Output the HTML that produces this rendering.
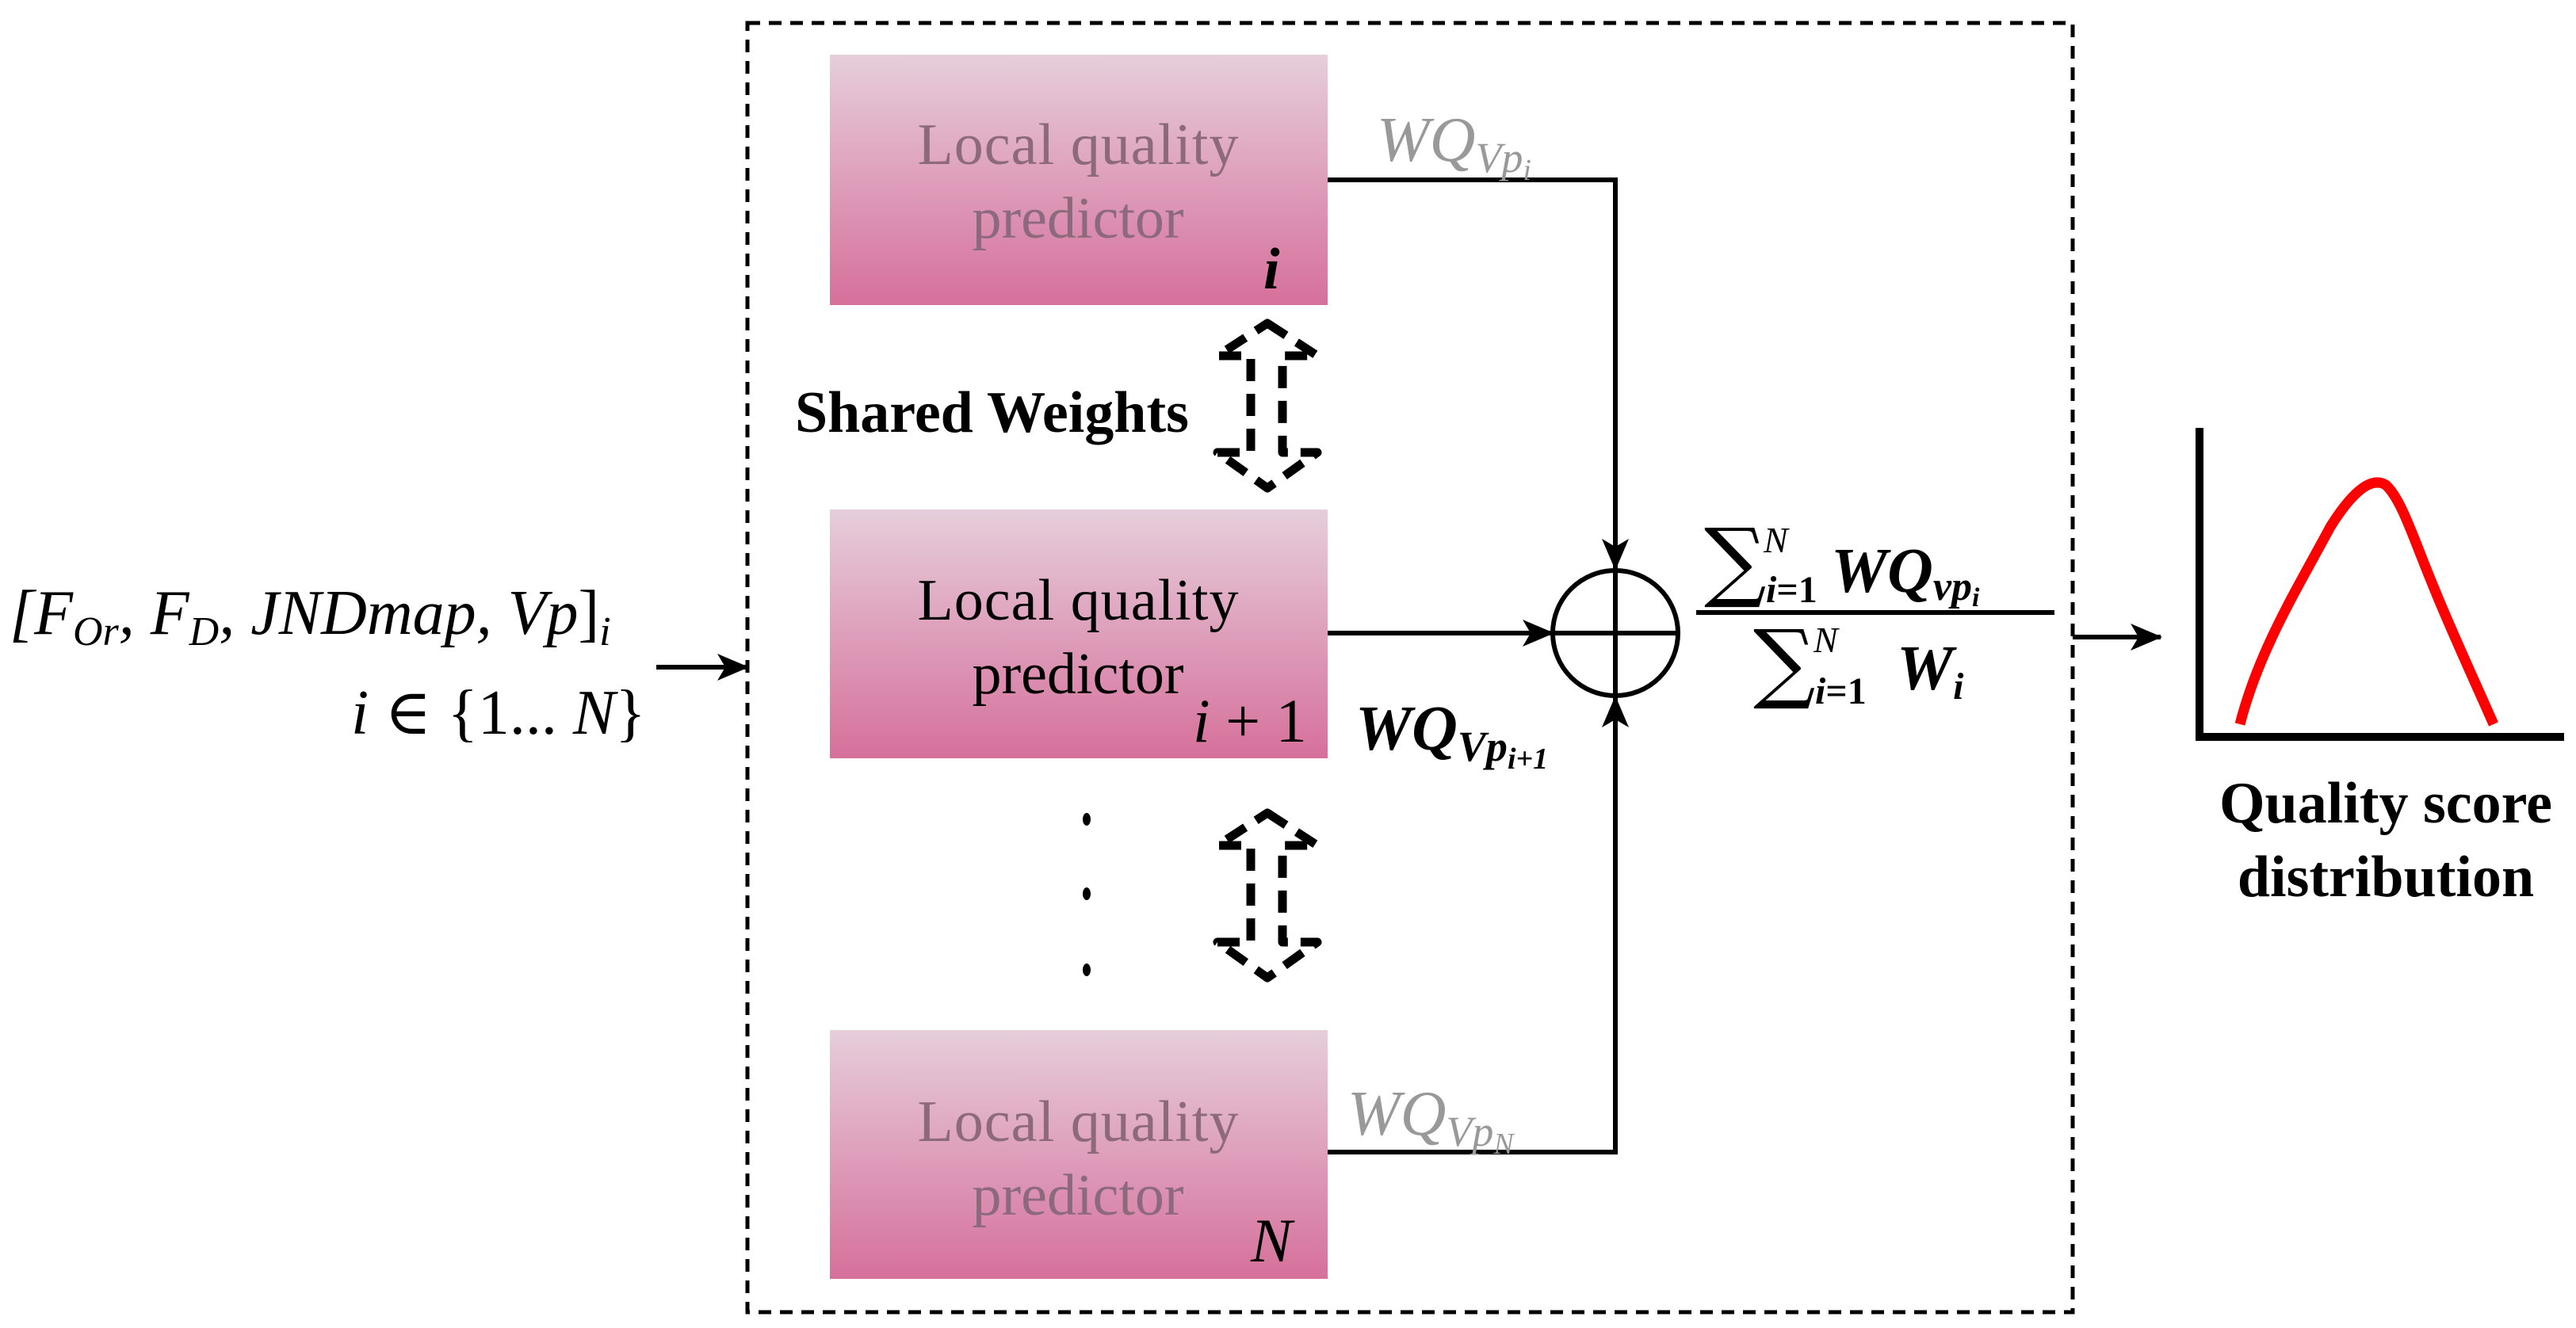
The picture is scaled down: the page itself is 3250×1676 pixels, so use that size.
<!DOCTYPE html>
<html><head><meta charset="utf-8"><style>
html,body{margin:0;padding:0;background:#fff}
svg{display:block}
</style></head><body>
<svg width="3250" height="1676" viewBox="0 0 3250 1676" xmlns="http://www.w3.org/2000/svg" font-family="'Liberation Serif', 'DejaVu Serif', serif">
<defs>
<linearGradient id="g" x1="0" y1="0" x2="0" y2="1">
<stop offset="0" stop-color="#e6cedb"/><stop offset="1" stop-color="#d6709b"/>
</linearGradient>
<marker id="ah" markerWidth="40" markerHeight="34" refX="38" refY="17" orient="auto" markerUnits="userSpaceOnUse" viewBox="0 0 40 34">
<path d="M0,0 L40,17 L0,34 L10,17 Z" fill="#000"/>
</marker>
</defs>
<rect x="943" y="29" width="1672" height="1627" fill="none" stroke="#000" stroke-width="5" stroke-dasharray="16,11"/>

<rect x="1047" y="69" width="628" height="316" fill="url(#g)"/>
<rect x="1047" y="643" width="628" height="314" fill="url(#g)"/>
<rect x="1047" y="1300" width="628" height="314" fill="url(#g)"/>

<g font-size="74" text-anchor="middle">
<text x="1360" y="207" fill="#8c6a7c" textLength="405">Local quality</text>
<text x="1360" y="300" fill="#8c6a7c">predictor</text>
<text x="1360" y="782" fill="#000" textLength="405">Local quality</text>
<text x="1360" y="875" fill="#000">predictor</text>
<text x="1360" y="1440" fill="#8c6a7c" textLength="405">Local quality</text>
<text x="1360" y="1533" fill="#8c6a7c">predictor</text>
</g>
<text x="1594" y="364" font-size="74" font-style="italic" font-weight="bold">i</text>
<text x="1505" y="936" font-size="78" font-style="italic">i<tspan font-style="normal"> + 1</tspan></text>
<text x="1578" y="1592" font-size="78" font-style="italic">N</text>

<text x="1003" y="545" font-size="74" font-weight="bold">Shared Weights</text>
<g fill="none" stroke="#000" stroke-width="11" stroke-dasharray="28,16" stroke-linejoin="round">
<path d="M1599,408 L1662,449 L1618,449 L1618,571 L1662,571 L1599,616 L1536,571 L1578,571 L1578,449 L1536,449 Z"/>
<path d="M1599,1026 L1662,1067 L1618,1067 L1618,1189 L1662,1189 L1599,1234 L1536,1189 L1578,1189 L1578,1067 L1536,1067 Z"/>
</g>
<g fill="#000">
<ellipse cx="1371" cy="1034" rx="5" ry="8"/>
<ellipse cx="1371" cy="1128" rx="5" ry="8"/>
<ellipse cx="1371" cy="1224" rx="5" ry="8"/>
</g>

<g fill="none" stroke="#000" stroke-width="6">
<polyline points="1675,227 2038,227 2038,718" marker-end="url(#ah)"/>
<line x1="1675" y1="799" x2="1959" y2="799" marker-end="url(#ah)"/>
<polyline points="1675,1454 2038,1454 2038,880" marker-end="url(#ah)"/>
<circle cx="2038" cy="799" r="79"/>
<line x1="1959" y1="799" x2="2117" y2="799"/>
<line x1="2038" y1="720" x2="2038" y2="878"/>
<line x1="2140" y1="773" x2="2592" y2="773"/>
<line x1="2615" y1="804" x2="2726" y2="804" marker-end="url(#ah)"/>
<line x1="828" y1="842" x2="943" y2="842" marker-end="url(#ah)"/>
</g>

<text x="1737" y="203" font-size="80" font-style="italic" fill="#999">WQ<tspan font-size="54" dy="14">Vp</tspan><tspan font-size="38" dy="10">i</tspan></text>
<text x="1710" y="946" font-size="80" font-style="italic" font-weight="bold">WQ<tspan font-size="54" dy="14">Vp</tspan><tspan font-size="38" dy="10">i+1</tspan></text>
<text x="1700" y="1432" font-size="80" font-style="italic" fill="#999">WQ<tspan font-size="54" dy="14">Vp</tspan><tspan font-size="38" dy="10">N</tspan></text>

<text x="2150" y="745" font-size="110" font-family="'DejaVu Serif', serif">∑</text>
<text x="2225" y="697" font-size="46" font-style="italic">N</text>
<text x="2228" y="760" font-size="48" font-style="italic" font-weight="bold">i<tspan font-style="normal">=1</tspan></text>
<text x="2310" y="747" font-size="80" font-style="italic" font-weight="bold">WQ<tspan font-size="52" dy="10">vp</tspan><tspan font-size="34" dy="8">i</tspan></text>
<text x="2212" y="873" font-size="110" font-family="'DejaVu Serif', serif">∑</text>
<text x="2288" y="823" font-size="46" font-style="italic">N</text>
<text x="2290" y="888" font-size="48" font-style="italic" font-weight="bold">i<tspan font-style="normal">=1</tspan></text>
<text x="2393" y="870" font-size="80" font-style="italic" font-weight="bold">W<tspan font-size="48" dy="12">i</tspan></text>

<text x="12" y="800" font-size="80" font-style="italic">[F<tspan font-size="52" dy="14">Or</tspan><tspan dy="-14">, F</tspan><tspan font-size="52" dy="14">D</tspan><tspan dy="-14">, JNDmap, Vp</tspan><tspan font-style="normal">]</tspan><tspan font-size="52" dy="14">i</tspan></text>
<text x="443" y="926" font-size="80" font-style="italic">i <tspan font-style="normal">∈ {1... </tspan>N<tspan font-style="normal">}</tspan></text>

<polyline points="2775,540 2775,930 3235,930" fill="none" stroke="#000" stroke-width="10"/>
<path d="M2826,914 C2850,820 2900,740 2940,665 C2965,625 2990,600 3010,612 C3030,630 3045,680 3070,740 C3090,790 3120,855 3146,914" fill="none" stroke="#f00" stroke-width="13"/>
<g font-size="74" font-weight="bold" text-anchor="middle">
<text x="3010" y="1038">Quality score</text>
<text x="3010" y="1131">distribution</text>
</g>
</svg>
</body></html>
